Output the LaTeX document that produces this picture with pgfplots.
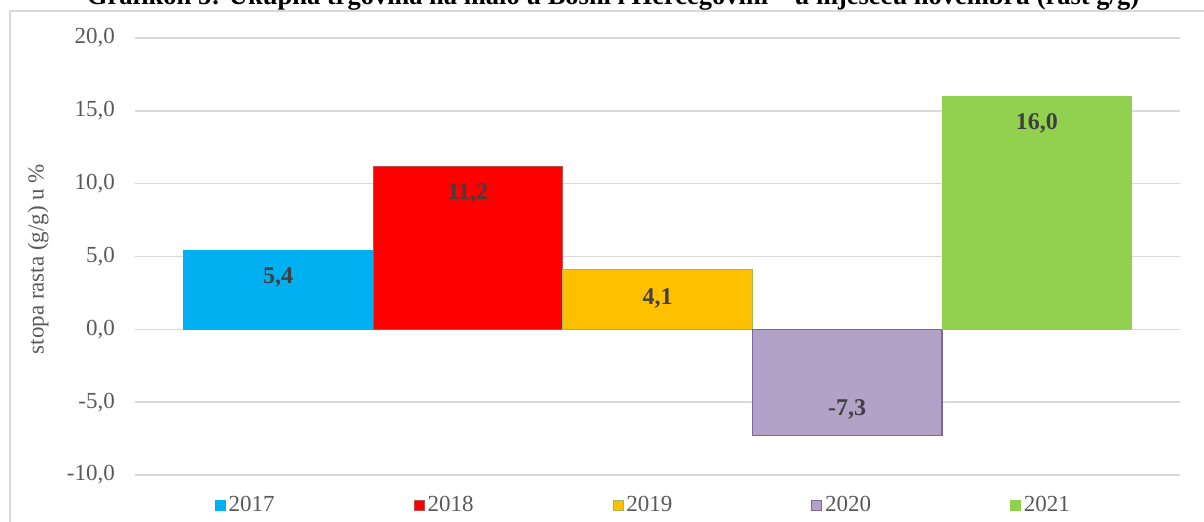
\documentclass[border=0pt]{standalone}
\usepackage{pgfplots}
\pgfplotsset{compat=1.18}
\usepackage{fontspec}
\setmainfont{Liberation Serif}
\definecolor{c17}{HTML}{00B0F0}
\definecolor{c18}{HTML}{FF0000}
\definecolor{c18b}{HTML}{C0504D}
\definecolor{c19}{HTML}{FFC000}
\definecolor{c19b}{HTML}{9BBB59}
\definecolor{c20}{HTML}{B2A2C7}
\definecolor{c20b}{HTML}{8064A2}
\definecolor{c21}{HTML}{92D050}
\definecolor{gridc}{HTML}{D9D9D9}
\definecolor{tickc}{HTML}{595959}
\definecolor{labc}{HTML}{404040}
\begin{document}
\begin{tikzpicture}
\draw[gridc, line width=1.2bp] (10bp,-20bp) -- (10bp,511bp) -- (1230bp,511bp);
\node[font=\fontsize{26.5bp}{30bp}\selectfont\bfseries, anchor=base] at (613bp,517bp)
  {Grafikon 5: Ukupna trgovina na malo u Bosni i Hercegovini -- u mjesecu novembru (rast g/g)};
\begin{axis}[
  at={(135bp,47bp)}, anchor=south west,
  width=1045bp, height=437bp, scale only axis,
  xmin=-0.755, xmax=4.755, ymin=-10, ymax=20,
  ytick={-10,-5,0,5,10,15,20}, xtick=\empty,
  ymajorgrids, grid style={gridc, line width=1.5bp},
  axis line style={draw=none}, major tick length=0pt,
  /pgf/number format/assume math mode=true,
  yticklabel={\pgfmathprintnumber[fixed,fixed zerofill,precision=1,use comma]{\tick}},
  yticklabel style={font=\fontsize{23bp}{27bp}\selectfont, color=tickc, inner sep=0pt, xshift=-20bp},
  ylabel={stopa rasta (g/g) u \%},
  every axis y label/.style={at={(axis description cs:-0.0928,0.494)}, rotate=90, anchor=center,
    font=\fontsize{23bp}{27bp}\selectfont, color=tickc},
  ybar, bar width=1, bar shift=0pt,
  nodes near coords={\pgfmathprintnumber[fixed,fixed zerofill,precision=1,use comma]{\pgfplotspointmeta}},
  nodes near coords align={center},
  every node near coord/.append style={font=\fontsize{24bp}{28bp}\selectfont\bfseries, color=labc},
  legend columns=5,
  legend image code/.code={\draw[#1, line width=0.8bp] (0bp,-5bp) rectangle (10bp,5bp);},
  legend style={at={(axis description cs:0.487,-0.0686)}, anchor=center, draw=none, fill=none,
    font=\fontsize{23bp}{27bp}\selectfont, text=tickc,
    nodes={inner xsep=3bp, inner ysep=1bp},
    /tikz/every even column/.append style={column sep=136bp}},
]
\addplot[fill=c17, draw=c17, line width=0.5bp, every node near coord/.append style={yshift=-27bp}] coordinates {(0,5.4)};
\addlegendentry{2017}
\addplot[fill=c18, draw=c18b, line width=1bp, every node near coord/.append style={yshift=-27bp}] coordinates {(1,11.2)};
\addlegendentry{2018}
\addplot[fill=c19, draw=c19b, line width=1bp, every node near coord/.append style={yshift=-29bp}] coordinates {(2,4.1)};
\addlegendentry{2019}
\addplot[fill=c20, draw=c20b, line width=1.5bp, every node near coord/.append style={yshift=26bp}] coordinates {(3,-7.3)};
\addlegendentry{2020}
\addplot[fill=c21, draw=c21, line width=0.5bp, every node near coord/.append style={yshift=-27bp}] coordinates {(4,16.0)};
\addlegendentry{2021}
\end{axis}
\pgfresetboundingbox
\path[use as bounding box] (0,0) rectangle (1204bp,522bp);
\end{tikzpicture}
\end{document}
